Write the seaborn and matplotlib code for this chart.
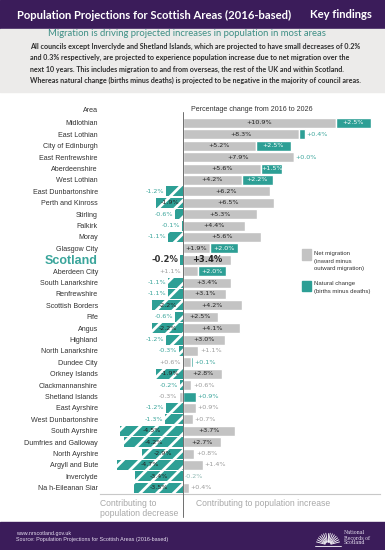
import numpy as np
import pandas as pd
import matplotlib.pyplot as plt
import matplotlib.patches as mpatches
from matplotlib.lines import Line2D
import seaborn as sns

areas = ['Midlothian', 'East Lothian', 'City of Edinburgh', 'East Renfrewshire',
         'Aberdeenshire', 'West Lothian', 'East Dunbartonshire', 'Perth and Kinross',
         'Stirling', 'Falkirk', 'Moray', 'Glasgow City', 'Scotland', 'Aberdeen City',
         'South Lanarkshire', 'Renfrewshire', 'Scottish Borders', 'Fife', 'Angus',
         'Highland', 'North Lanarkshire', 'Dundee City', 'Orkney Islands',
         'Clackmannanshire', 'Shetland Islands', 'East Ayrshire', 'West Dunbartonshire',
         'South Ayrshire', 'Dumfries and Galloway', 'North Ayrshire', 'Argyll and Bute',
         'Inverclyde', 'Na h-Eileanan Siar']
migration = [10.9, 8.3, 5.2, 7.9, 5.6, 4.2, 6.2, 6.5, 5.3, 4.4, 5.6, 1.9, 3.4, 1.1,
             3.4, 3.1, 4.2, 2.5, 4.1, 3.0, 1.1, 0.6, 2.8, 0.6, -0.3, 0.9, 0.7,
             3.7, 2.7, 0.8, 1.4, -0.2, 0.4]
natural = [2.5, 0.4, 2.5, 0.0, 1.5, 2.2, -1.2, -1.9, -0.6, -0.1, -1.1, 2.0, -0.2, 2.0,
           -1.1, -1.1, -2.2, -0.6, -2.2, -1.2, -0.3, 0.1, -1.9, -0.2, 0.9, -1.2, -1.3,
           -4.5, -4.2, -2.9, -4.7, -3.4, -3.5]

teal = '#2d9f95'
teal_text = '#3aa59b'
grey = '#c3c3c3'
purple = '#3b1c5a'
dark = '#333333'

sns.set_theme(style='white')
plt.rcParams['font.family'] = ['Liberation Sans', 'DejaVu Sans']
plt.rcParams['hatch.linewidth'] = 2.0

W, H = 385, 550
fig = plt.figure(figsize=(W / 100, H / 100), dpi=100)
fig.patch.set_facecolor('white')


def fx(x):
    return x / W


def fy(y):
    return 1 - y / H


def band(y0, y1, color):
    fig.add_artist(mpatches.Rectangle((0, fy(y1)), 1, (y1 - y0) / H, color=color,
                                      transform=fig.transFigure, zorder=0))


# background bands
band(0, 29, purple)
band(29, 92, '#ecebea')
band(522, 550, purple)

# header
fig.text(fx(17), fy(15), 'Population Projections for Scottish Areas (2016-based)',
         family='Lato', weight='bold', fontsize=8.1, color='white', va='center')
fig.text(fx(372), fy(15), 'Key findings', family='Lato', weight='bold', fontsize=8.1,
         color='white', va='center', ha='right')
fig.text(fx(187), fy(34), 'Migration is driving projected increases in population in most areas',
         family='Lato', fontsize=6.8, color='#3e8f85', va='center', ha='center')
para = ['All councils except Inverclyde and Shetland Islands, which are projected to have small decreases of 0.2%',
        'and 0.3% respectively, are projected to experience population increase due to net migration over the',
        'next 10 years. This includes migration to and from overseas, the rest of the UK and within Scotland.',
        'Whereas natural change (births minus deaths) is projected to be negative in the majority of council areas.']
for i, line in enumerate(para):
    fig.text(fx(30), fy(46 + i * 11.5), line, family='Lato', weight='bold', fontsize=5.1,
             color='#2e2e2e', va='center')

# chart
df = pd.DataFrame({'area': areas, 'migration': migration, 'natural': natural})
ax = fig.add_axes([fx(100), fy(493.5), (380 - 100) / W, (493.5 - 115) / H])
ax.set_facecolor('none')
sns.barplot(data=df, x='migration', y='area', orient='h', color=grey, width=0.88,
            saturation=1, ax=ax, zorder=2)

mig = np.array(migration)
nat = np.array(natural)
pos = np.arange(len(areas))
left = np.where(nat >= 0, np.maximum(mig, 0), 0)
up = nat >= 0
ax.barh(pos[up], nat[up], left=left[up], height=0.88, color=teal, zorder=3)
ax.barh(pos[~up], nat[~up], height=0.88, facecolor=teal, edgecolor='white',
        linewidth=0, hatch='//', zorder=3)

ax.set_xlim(-83 / 14.0, 197 / 14.0)
ax.set_ylim(32.5, -0.7)
ax.set_xticks([])
ax.set_xlabel('')
ax.set_ylabel('')
ax.set_yticks(pos)
ax.set_yticklabels(areas, fontsize=5.1, color=dark)
ax.tick_params(axis='y', length=0, pad=1.5)
sc = areas.index('Scotland')
lab = ax.get_yticklabels()[sc]
lab.set_fontsize(9)
lab.set_fontweight('bold')
lab.set_color(teal_text)
for s in ['top', 'right', 'left']:
    ax.spines[s].set_visible(False)
ax.spines['bottom'].set_color('#c8c8c8')
ax.spines['bottom'].set_linewidth(0.8)
ax.axvline(0, ymin=-0.063, ymax=1.008, color='#6e6e6e', lw=0.7, clip_on=False, zorder=5)


def fmt(v):
    return ('+' if v >= 0 else '-') + f'{abs(v):.1f}%'


g = 0.12
for i in pos:
    m, n = mig[i], nat[i]
    fs = 6 if i == sc else 4.6
    wt = 'bold' if i == sc else 'normal'
    kw = dict(va='center', fontsize=fs, weight=wt, family='DejaVu Sans', zorder=6)
    # net migration label
    if m >= 1.5:
        ax.text(m / 2, i, fmt(m), ha='center', color='#222222', **kw)
    elif m < 0:
        if n > 0:
            ax.text(m - g, i, fmt(m), ha='right', color='#9a9a9a', **kw)
        else:
            ax.text(g, i, fmt(m), ha='left', color='#8fb8b3', **kw)
    else:
        if n > 0:
            ax.text(-g, i, fmt(m), ha='right', color='#9a9a9a', **kw)
        else:
            ax.text(m + g, i, fmt(m), ha='left', color='#9a9a9a', **kw)
    # natural change label
    if n >= 0:
        if n >= 1.5:
            ax.text(left[i] + n / 2, i, fmt(n), ha='center', color='white', **kw)
        else:
            ax.text(left[i] + n + g, i, fmt(n), ha='left', color=teal_text, **kw)
    else:
        if n <= -1.9:
            ax.text(n / 2, i, fmt(n), ha='center', color='#222222', **kw)
        else:
            ax.text(n - g, i, fmt(n), ha='right',
                    color=dark if i == sc else teal_text, **kw)

# chart headings
fig.text(fx(98), fy(111), 'Area', ha='right', va='center', fontsize=5.1, color=dark)
fig.text(fx(191), fy(109), 'Percentage change from 2016 to 2026', ha='left', va='center',
         fontsize=5.1, color=dark)

# legend
fig.add_artist(mpatches.Rectangle((fx(302), fy(260)), 9 / W, 11 / H, color=grey,
                                  transform=fig.transFigure, zorder=3))
fig.add_artist(mpatches.Rectangle((fx(302), fy(291)), 9 / W, 10 / H, color=teal,
                                  transform=fig.transFigure, zorder=3))
for y, t in [(253, 'Net migration'), (261, '(inward minus'), (268.5, 'outward migration)'),
             (284, 'Natural change'), (291.5, '(births minus deaths)')]:
    fig.text(fx(314), fy(y), t, fontsize=4.3, color=dark, va='center')

# bottom captions
fig.text(fx(100), fy(503), 'Contributing to', fontsize=6.2, color='#a8a8a8', va='center')
fig.text(fx(100), fy(514), 'population decrease', fontsize=6.2, color='#a8a8a8', va='center')
fig.text(fx(196), fy(503), 'Contributing to population increase', fontsize=6.2,
         color='#a8a8a8', va='center')

# footer
fig.text(fx(16), fy(533.5), 'www.nrscotland.gov.uk', fontsize=3.9, color='#e6dff0', va='center')
fig.text(fx(16), fy(539.5), 'Source: Population Projections for Scottish Areas (2016-based)',
         fontsize=3.9, color='#e6dff0', va='center')
cx, cy, r = 328, 545, 12
for a in np.linspace(15, 165, 15):
    t = np.radians(a)
    fig.add_artist(Line2D([fx(cx + 3 * np.cos(t)), fx(cx + r * np.cos(t))],
                          [fy(cy - 3 * np.sin(t)), fy(cy - r * np.sin(t))],
                          color='white', lw=0.6, transform=fig.transFigure))
fig.add_artist(Line2D([fx(cx - 13), fx(cx + 13)], [fy(cy + 1), fy(cy + 1)],
                      color='white', lw=0.6, transform=fig.transFigure))
for i, t in enumerate(['National', 'Records of', 'Scotland']):
    fig.text(fx(344), fy(533 + i * 5), t, family='DejaVu Serif', fontsize=3.4,
             color='#e6dff0', va='center')

fig.savefig('out.png', dpi=100)
